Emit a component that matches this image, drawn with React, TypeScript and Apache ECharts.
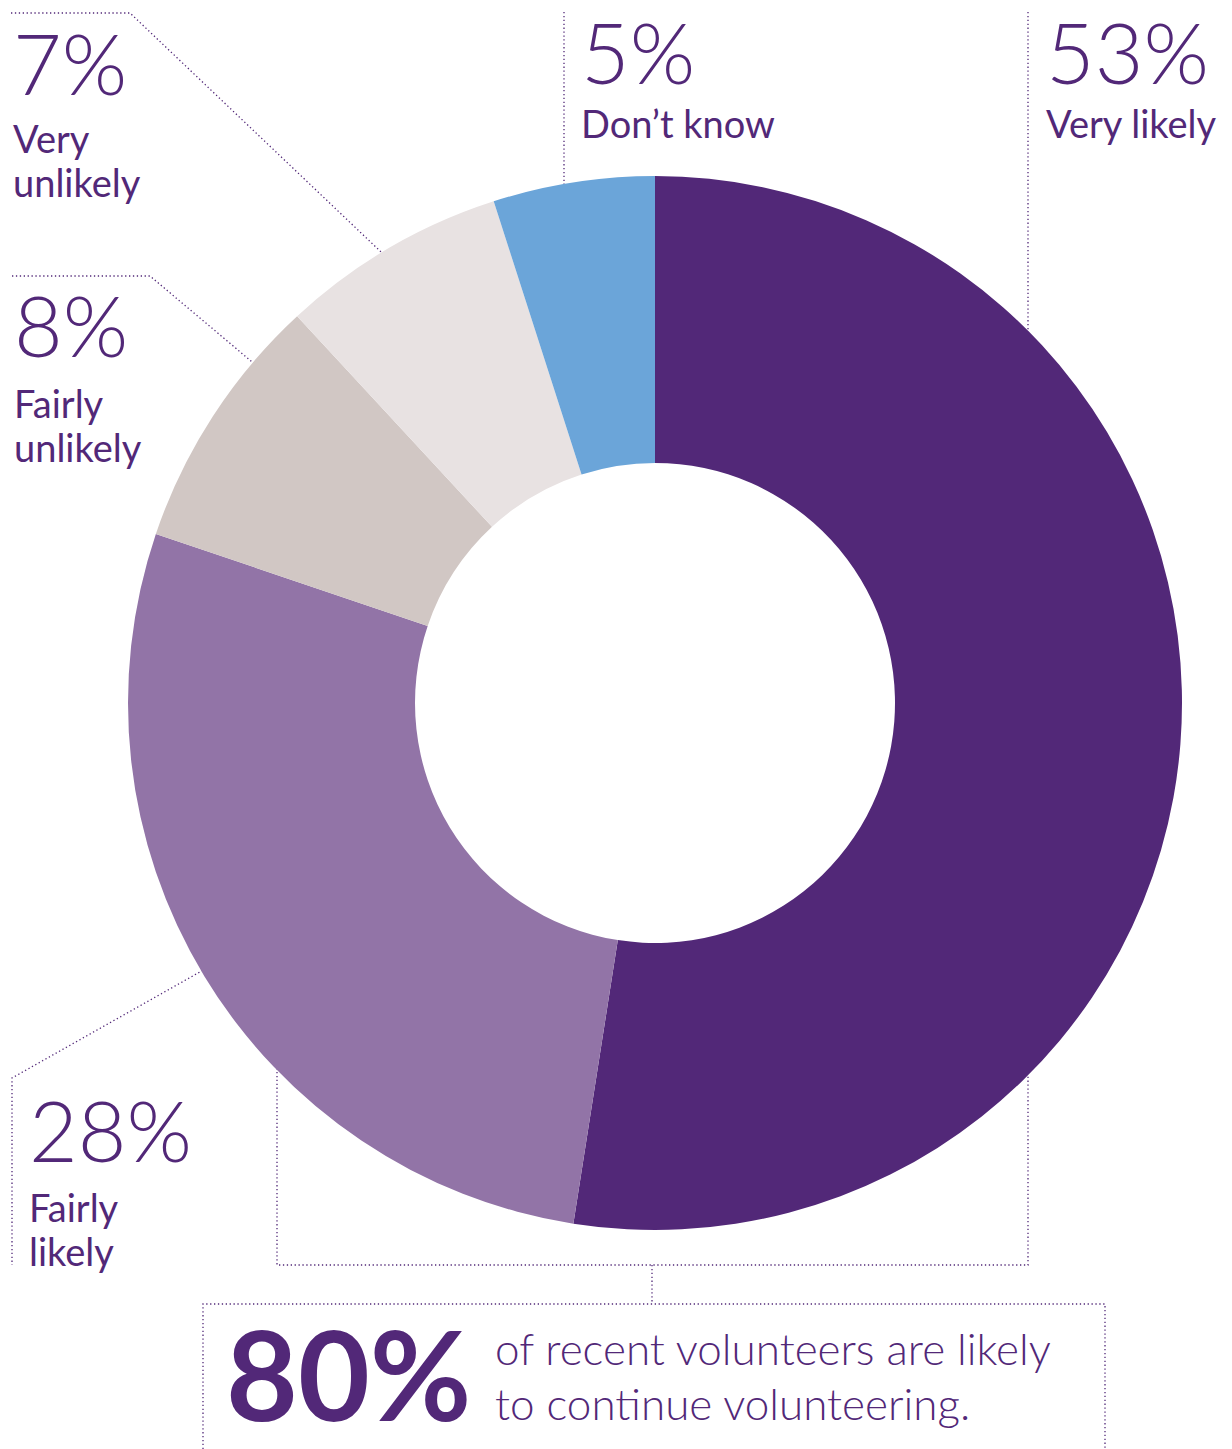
import React, { useEffect, useRef } from "react";
import * as echarts from "echarts";

const categories = ["Very likely", "Fairly likely", "Fairly unlikely", "Very unlikely", "Don’t know"];
const values = [53, 28, 8, 7, 5];
const labelLines = [["Very likely"], ["Fairly", "likely"], ["Fairly", "unlikely"], ["Very", "unlikely"], ["Don’t know"]];
const summaryValue = 80;
const summaryLines = ["of recent volunteers are likely", "to continue volunteering."];

const COLORS = ["#522878", "#9274A7", "#D1C7C4", "#E8E2E2", "#6BA5D9"];
const TEXT = "#522878";
const FONT = "Lato";

// x, baseline of percentage, baseline of first label line
const LABEL_POS = [
  { x: 1046, pctBase: 84, lblBase: 138 },
  { x: 29, pctBase: 1162, lblBase: 1222 },
  { x: 14, pctBase: 357, lblBase: 418 },
  { x: 13, pctBase: 95, lblBase: 153 },
  { x: 581, pctBase: 84, lblBase: 138 },
];

const LINES: number[][][] = [
  [[11, 13], [130, 13], [400, 270]],
  [[12, 276], [150, 276], [270, 377]],
  [[564, 12], [564, 230]],
  [[1028, 12], [1028, 1265], [277, 1265], [277, 1000]],
  [[230, 955], [12, 1078], [12, 1265]],
  [[652, 1265], [652, 1304]],
  [[203, 1449], [203, 1304], [1105, 1304], [1105, 1449]],
];

const CENTRAL = 0.387; // Lato: em-box centre above baseline, in em

export default function App() {
  const ref = useRef<HTMLDivElement>(null);
  useEffect(() => {
    document.body.style.margin = "0";
    const chart = echarts.init(ref.current!, null, { renderer: "svg" });
    const PCT_SIZE = 84;
    const LBL_SIZE = 38;
    const LBL_LH = 44;
    const graphics: any[] = [];
    LINES.forEach((pts) => {
      graphics.push({
        type: "polyline",
        z: 0,
        shape: { points: pts },
        style: { stroke: TEXT, lineWidth: 1.3, lineDash: [1.3, 2.6], fill: null },
      });
    });
    categories.forEach((c, i) => {
      const p = LABEL_POS[i];
      graphics.push({
        type: "text",
        z: 10,
        x: p.x,
        y: p.pctBase - CENTRAL * PCT_SIZE,
        style: {
          text: `${values[i]}%`,
          font: `300 ${PCT_SIZE}px ${FONT}`,
          fill: TEXT,
          textAlign: "left",
          textVerticalAlign: "middle",
        },
      });
      graphics.push({
        type: "text",
        z: 10,
        x: p.x,
        y: p.lblBase - CENTRAL * LBL_SIZE - LBL_LH / 2,
        style: {
          text: labelLines[i].join("\n"),
          font: `400 ${LBL_SIZE}px ${FONT}`,
          lineHeight: LBL_LH,
          fill: TEXT,
          textAlign: "left",
          textVerticalAlign: "top",
        },
      });
    });
    const BIG = 124;
    graphics.push({
      type: "text",
      z: 10,
      x: 226,
      y: 1421 - CENTRAL * BIG,
      style: {
        text: `${summaryValue}%`,
        font: `700 ${BIG}px ${FONT}`,
        fill: TEXT,
        textAlign: "left",
        textVerticalAlign: "middle",
      },
    });
    const SUM = 44;
    const SUM_LH = 55;
    graphics.push({
      type: "text",
      z: 10,
      x: 495,
      y: 1365 - CENTRAL * SUM - SUM_LH / 2,
      style: {
        text: summaryLines.join("\n"),
        font: `300 ${SUM}px ${FONT}`,
        lineHeight: SUM_LH,
        fill: TEXT,
        textAlign: "left",
        textVerticalAlign: "top",
      },
    });

    chart.setOption({
      animation: false,
      backgroundColor: "#ffffff",
      graphic: { elements: graphics },
      series: [
        {
          type: "pie",
          z: 2,
          center: [655, 703],
          radius: [240, 527],
          startAngle: 90,
          clockwise: true,
          silent: true,
          label: { show: false },
          labelLine: { show: false },
          itemStyle: { borderWidth: 0 },
          data: categories.map((c, i) => ({
            name: c,
            value: values[i],
            itemStyle: { color: COLORS[i] },
          })),
        },
      ],
    });
    return () => chart.dispose();
  }, []);
  return <div ref={ref} style={{ width: 1232, height: 1449 }} />;
}
